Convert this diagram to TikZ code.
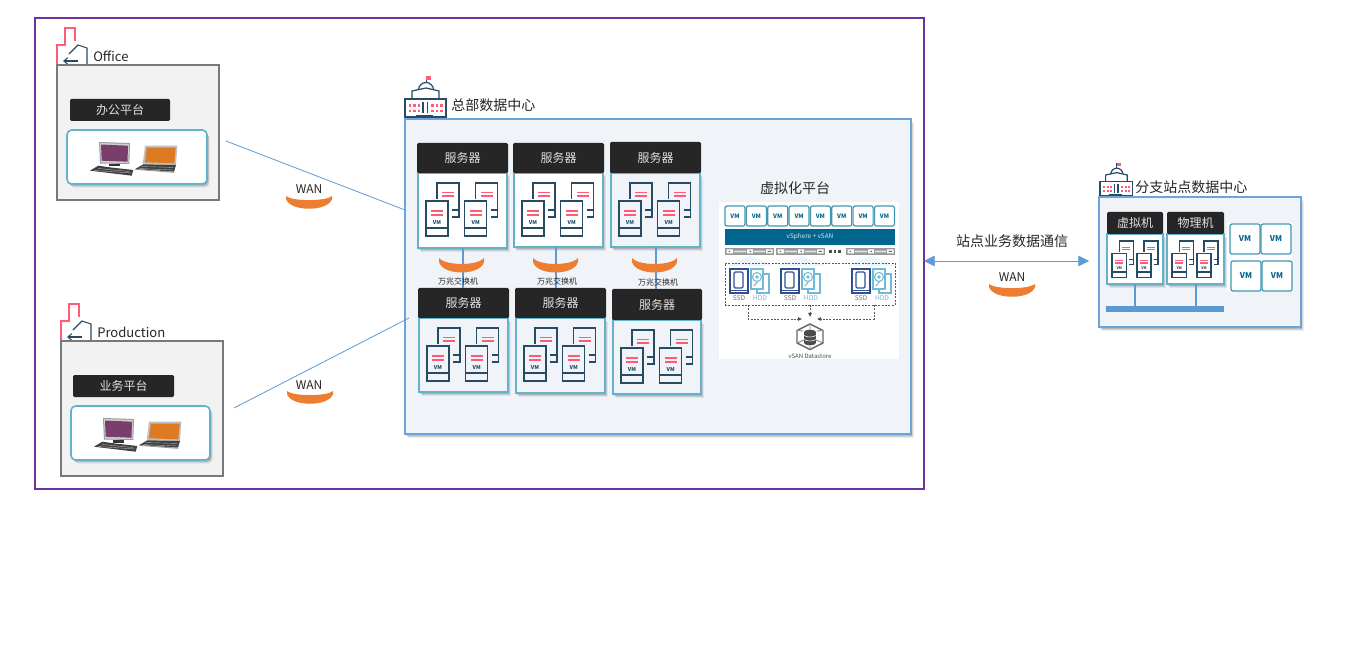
\documentclass[tikz,border=0pt]{standalone}
\usepackage{fontspec}
\setmainfont{Noto Sans CJK SC}
\usetikzlibrary{shadows,arrows.meta}

\definecolor{campusline}{HTML}{7030A0}
\definecolor{wanblue}{HTML}{5B9BD5}
\definecolor{hqfill}{HTML}{F0F4F8}
\definecolor{tealline}{HTML}{62B2CA}
\definecolor{headblack}{HTML}{262626}
\definecolor{iconblue}{HTML}{264B63}
\definecolor{pinkred}{HTML}{FF5A78}
\definecolor{wanorange}{HTML}{ED7D31}
\definecolor{vmblue}{HTML}{00668E}
\definecolor{ssdblue}{HTML}{2F4F8F}
\definecolor{hddblue}{HTML}{6FBAD6}
\definecolor{pcscreen}{HTML}{7A3E6C}
\definecolor{lapscreen}{HTML}{DE7A22}

\tikzset{
	x=0.75pt, y=-0.75pt,
	softshadow/.style={
		drop shadow={shadow xshift=0.5pt, shadow yshift=-0.6pt, opacity=0.12, fill=black},
		drop shadow={shadow xshift=1pt, shadow yshift=-1.3pt, opacity=0.12, fill=black},
		drop shadow={shadow xshift=1.5pt, shadow yshift=-2pt, opacity=0.10, fill=black},
		drop shadow={shadow xshift=2pt, shadow yshift=-2.7pt, opacity=0.07, fill=black}},
	sitebox/.style={draw=gray!95!black, fill=black!5, line width=1.1pt},
	hqbox/.style={draw=wanblue!90!white, fill=hqfill, line width=1.4pt, softshadow},
	headbox/.style={fill=headblack, rounded corners=1pt, text=white!88!black, font=\fontsize{9}{9}\selectfont},
	cardbox/.style={draw=tealline, line width=1.2pt, softshadow},
	deskbox/.style={cardbox, fill=white, rounded corners=3.5pt},
	vmbox/.style={draw=tealline!65!vmblue, fill=white, line width=0.9pt, rounded corners=1.5pt, text=vmblue},
	wanline/.style={draw=wanblue, line width=0.6pt},
	lanline/.style={draw=wanblue, line width=1.5pt},
	dotline/.style={draw=black!65, line width=0.5pt, dash pattern=on 1.5pt off 1pt},
	wantag/.style={text=headblack, inner sep=0pt, font=\fontsize{9}{9}\selectfont},
	sitetag/.style={anchor=west, inner sep=0pt, text=headblack, font=\fontsize{10.5}{10.5}\selectfont},
	latintag/.style={sitetag, font=\fontsize{9.8}{9.8}\selectfont},
	swtag/.style={text=headblack, inner sep=0pt, font=\fontsize{6}{6}\selectfont},
	% office building outline with the house in front
	officeicon/.pic={
		\draw[pinkred, line width=1pt] (0,0) -- (0,-20) -- (8,-20) -- (8,-37) -- (18,-37) -- (18,-24);
		\draw[iconblue, line width=0.8pt] (30,0) -- (30,-17) -- (21,-20) -- (12,-11);
		\draw[iconblue, line width=0.8pt, -{Straight Barb[length=3pt,width=5pt]}] (21,-4) -- (6,-4);
	},
	% main building with flag
	hallicon/.pic={
		\draw[iconblue, line width=0.7pt] (21,0) -- (21,8);
		\fill[pinkred] (21,0) rectangle (26,4);
		\draw[iconblue, line width=0.9pt, fill=white] (13.5,14) arc[start angle=180, end angle=360, radius=7.5];
		\draw[iconblue, line width=0.9pt, fill=white] (7,24) -- (7,15) -- (21,12) -- (34,15) -- (34,24);
		\draw[iconblue, line width=0.8pt, fill=white] (0,23) rectangle (41,41);
		\draw[iconblue, line width=1pt] (18,26) -- (18,37) (22.3,26) -- (22.3,37) (11,39.5) -- (28,39.5);
		\foreach \wx in {5,9.5,14,27.5,32,36.5}
			\foreach \wy in {29.5,35}
				\fill[pinkred] (\wx-1.2,\wy-1.2) rectangle (\wx+1.2,\wy+1.2);
	},
	% four vm sheets, two pairs
	vmstack/.pic={
		\foreach \dx in {0,38.7}{
			\begin{scope}[xshift=\dx*0.75pt]
				\draw[iconblue, line width=1pt] (19,26) -- (19,10) -- (41,10) -- (41,44) -- (34,44) (34,37) -- (41,37);
				\draw[pinkred, line width=0.9pt] (24,19.5) -- (36,19.5) (24,23) -- (36,23);
				\draw[iconblue, line width=1pt] (8,28) rectangle (30,63) (8,55) -- (30,55);
				\draw[pinkred, line width=0.9pt] (13,38) -- (25,38) (13,42) -- (25,42);
				\node[text=iconblue, inner sep=0pt, transform shape, font=\fontsize{4}{4}\bfseries\selectfont] (vmmark) at (19,50) {VM};
			\end{scope}
		}
	},
	% desktop and laptop, origin at the panel corner
	pcset/.pic={
		\fill[black!40] (32,12) -- (63,13) -- (62.3,34) -- (33,33.5) -- cycle;
		\fill[black!18] (33,13) -- (62,14) -- (61.5,33) -- (34,32.5) -- cycle;
		\fill[pcscreen] (34,14.5) -- (61,15.7) -- (60.5,31.7) -- (34.7,30.7) -- cycle;
		\fill[black!80] (42,34) rectangle (53,36.5);
		\fill[black!75] (23,40.7) -- (31.3,35.7) -- (44,37.5) -- (66.3,40) -- (64.7,45.7) -- cycle;
		\draw[black!30, line width=0.3pt] (27,40.5) -- (64,43) (31,38.5) -- (62,41.5);
		\fill[black!25] (78,15.7) -- (110.3,15.7) -- (109,35) -- (75.7,34.3) -- cycle;
		\fill[lapscreen] (79.7,17.7) -- (108.7,17.7) -- (107.3,33.3) -- (78,32.3) -- cycle;
		\fill[black!75] (76.3,34.3) -- (109,35) -- (107,41.7) -- (68.3,39) -- cycle;
		\draw[black!35, line width=0.3pt] (74,36.5) -- (107,37.5) (72,38.5) -- (106,40);
		\fill[black!40] (68.3,39) -- (107,41.7) -- (107,42.8) -- (68.3,39.8) -- cycle;
	},
	hostbar/.pic={
		\fill[hqfill!70!wanblue!30!white] (25,8) -- (0,18) -- (50,18) -- cycle;
		\fill[black!40] (0,0) rectangle (49,7);
		\fill[white!85!vmblue] (9,2.6) rectangle (21,4.4) (29,2.6) rectangle (40,4.4);
		\fill[white] (1.5,1.5) rectangle (8,5.5) (22,1.5) rectangle (28,5.5) (41,1.5) rectangle (47.5,5.5);
		\fill[black!60] (3.5,3) rectangle (5,4) (24.3,3) rectangle (25.8,4) (42.5,3) rectangle (46,4);
	},
	diskpair/.pic={
		\draw[ssdblue, line width=0.9pt] (0,0) rectangle (18,24);
		\draw[ssdblue, line width=0.9pt, rounded corners=1pt] (4,3) rectangle (13,19);
		\draw[ssdblue, line width=0.5pt] (1,21.5) -- (17,21.5);
		\draw[hddblue, line width=0.8pt] (32,5) -- (39,5) -- (39,24) -- (27,24) -- (27,20);
		\draw[hddblue, line width=0.8pt, fill=white] (21,0) rectangle (33,20);
		\draw[hddblue, line width=0.8pt] (27,8) circle (4.5) (27,8) circle (1.2) (24,17) -- (28,12);
		\node[text=black!55, inner sep=0pt, font=\fontsize{5}{5}\selectfont] (ssdmark) at (9,29.5) {SSD};
		\node[text=hddblue, inner sep=0pt, font=\fontsize{5}{5}\selectfont] (hddmark) at (30,29.5) {HDD};
	},
	% bottom half of a cylinder
	wandish/.pic={
		\fill[wanorange] (0,0) -- (0,3) .. controls (4,16) and (42,16) .. (46,3) -- (46,0) .. controls (40,5.5) and (6,5.5) .. (0,0) -- cycle;
	},
	% wider one for the switches
	swdish/.pic={
		\fill[wanorange] (0,0) -- (0,4) .. controls (4,18) and (41,18) .. (45,4) -- (45,0) .. controls (38,8) and (7,8) .. (0,0) -- cycle;
	},
}

\newcommand{\plate}[7][]{\node[#1, inner sep=0pt, outer sep=0pt, minimum width={((#5)-(#3))*0.75pt}, minimum height={((#6)-(#4))*0.75pt}] (#2) at ({((#3)+(#5))/2},{((#4)+(#6))/2}) {#7};}

\begin{document}
\begin{tikzpicture}
	\useasboundingbox (0,0) rectangle (1362,648);
	\fill[white] (0,0) rectangle (1362,648);
	\plate[draw=campusline, line width=1.4pt]{campus}{35}{18}{924}{489}{}

	% office site
	\pic at (57,65) {officeicon};
	\plate[sitebox]{office}{57}{65}{219}{200}{}
	\node[latintag] (officetag) at (93,56.5) {Office};
	\plate[headbox]{officehead}{70}{99}{170}{121}{办公平台}
	\plate[deskbox]{officepc}{67}{130}{207}{184}{}
	\pic at (67,130) {pcset};

	% production site
	\pic at (61,341) {officeicon};
	\plate[sitebox]{prod}{61}{341}{223}{476}{}
	\node[latintag] (prodtag) at (97,332.5) {Production};
	\plate[headbox]{prodhead}{73}{375}{174}{397}{业务平台}
	\plate[deskbox]{prodpc}{71}{406}{210}{460}{}
	\pic at (71,406) {pcset};

	% head office
	\plate[hqbox]{hq}{405}{119}{911}{434}{}
	\pic at (405,76) {hallicon};
	\node[sitetag] (hqtag) at (451,105) {总部数据中心};

	\plate[cardbox, fill=white]{srv1}{418}{173}{507}{248}{}
	\plate[cardbox, fill=white]{srv2}{514}{173}{603}{247}{}
	\plate[cardbox, fill=hqfill]{srv3}{611}{173}{700}{247}{}
	\plate[cardbox, fill=hqfill]{srv4}{419}{318}{508}{392}{}
	\plate[cardbox, fill=hqfill]{srv5}{516}{318}{605}{393}{}
	\plate[cardbox, fill=hqfill]{srv6}{613}{320}{701}{394}{}
	\plate[headbox]{srv1head}{417}{143}{508}{173}{服务器}
	\plate[headbox]{srv2head}{513}{143}{604}{173}{服务器}
	\plate[headbox]{srv3head}{610}{142}{701}{173}{服务器}
	\plate[headbox]{srv4head}{418}{288}{509}{318}{服务器}
	\plate[headbox]{srv5head}{515}{288}{606}{318}{服务器}
	\plate[headbox]{srv6head}{612}{289}{702}{320}{服务器}
	\pic at (418,173) {vmstack};
	\pic at (514,173) {vmstack};
	\pic at (611,173) {vmstack};
	\pic at (419,318) {vmstack};
	\pic at (516,318) {vmstack};
	\pic at (613,320) {vmstack};

	\draw[lanline] (srv1.south) -- (srv1.south |- srv4head.north);
	\draw[lanline] ([xshift=-2pt]srv2.south) -- ([xshift=-2pt]srv2.south |- srv5head.north);
	\draw[lanline] (srv3.south) -- (srv3.south |- srv6head.north);
	\pic at (439,258) {swdish};
	\pic at (533,258) {swdish};
	\pic at (632,258) {swdish};
	\node[swtag] (sw1tag) at (458,281) {万兆交换机};
	\node[swtag] (sw2tag) at (557,281) {万兆交换机};
	\node[swtag] (sw3tag) at (658,282) {万兆交换机};

	% virtualisation block
	\node[text=headblack, inner sep=0pt, font=\fontsize{10.5}{10.5}\selectfont] (virttag) at (795,188) {虚拟化平台};
	\plate[fill=white]{virt}{719}{202}{899}{359}{}
	\foreach \i in {0,...,7}{
		\plate[vmbox, font=\fontsize{4.5}{4.5}\bfseries\selectfont]{vmtop\i}{725+\i*21.35}{206}{745+\i*21.35}{226}{VM}
	}
	\plate[fill=vmblue, text=white!85!vmblue, font=\fontsize{4.8}{4.8}\selectfont]{vsphere}{725}{229}{895}{245}{vSphere + vSAN}
	\pic at (725,248) {hostbar};
	\pic at (776,248) {hostbar};
	\pic at (846,248) {hostbar};
	\foreach \dx in {830.5,835,839.5}
		\fill[black!70] (\dx-1.2,250.3) rectangle (\dx+1.2,252.7);
	\plate[dotline]{pool}{725}{263}{895}{305}{}
	\pic at (730,269) {diskpair};
	\pic at (781,269) {diskpair};
	\pic at (852,269) {diskpair};

	% datastore hexagon
	\draw[black!60, line width=1.1pt, fill=white] (810,324) -- (823,330.5) -- (823,343) -- (810,349.5) -- (797,343) -- (797,330.5) -- cycle;
	\draw[black!45, line width=0.7pt] (810,324) -- (810,331) (823,343) -- (816,340) (797,343) -- (804,340)
		(803,331) -- (797,330.5) (817,331) -- (823,330.5) (810,349.5) -- (810,343);
	\fill[black!70] (804,332) rectangle (816,343);
	\fill[black!70] (810,332) ellipse (6 and 2.2);
	\fill[black!70] (810,343) ellipse (6 and 2.2);
	\draw[white, line width=0.4pt] (804,335.5) .. controls (807,337.5) and (813,337.5) .. (816,335.5) (804,339.5) .. controls (807,341.5) and (813,341.5) .. (816,339.5);
	\node[text=black!70, inner sep=0pt, font=\fontsize{4.5}{4.5}\selectfont] (storetag) at (810,356) {vSAN Datastore};
	\coordinate (poolleft) at (748,305);
	\coordinate (poolright) at (874,305);
	\coordinate (poolmid) at (810,305);
	\draw[dotline, -{Latex[length=3pt,width=3pt,color=iconblue]}] (poolleft) -- (748,319) -- (802,319);
	\draw[dotline, -{Latex[length=3pt,width=3pt,color=iconblue]}] (poolright) -- (874,319) -- (817,319);
	\draw[dotline, -{Latex[length=3pt,width=3pt,color=iconblue]}] (poolmid) -- (810,317);

	% branch
	\plate[hqbox]{branch}{1099}{197}{1301}{327}{}
	\pic[scale=0.8] at (1100,163) {hallicon};
	\node[sitetag] (branchtag) at (1135,187) {分支站点数据中心};
	\plate[cardbox, fill=white]{vmhost}{1107}{234}{1163}{284}{}
	\plate[cardbox, fill=white]{physhost}{1167}{234}{1224}{284}{}
	\plate[headbox]{vmhosthead}{1107}{212}{1163}{234}{虚拟机}
	\plate[headbox]{physhosthead}{1167}{212}{1224}{234}{物理机}
	\pic[xscale=0.64, yscale=0.69] at (1107,234) {vmstack};
	\pic[xscale=0.64, yscale=0.69] at (1167,234) {vmstack};
	\plate[fill=wanblue]{bus}{1106}{306}{1224}{312}{}
	\draw[lanline] (vmhost.south) -- (vmhost.south |- bus.north);
	\draw[lanline] (physhost.south) -- (physhost.south |- bus.north);
	\fill[white] (1227,223) rectangle (1292,291);
	\plate[vmbox, font=\fontsize{6}{6}\bfseries\selectfont]{vmfree1}{1230}{224}{1260}{254}{VM}
	\plate[vmbox, font=\fontsize{6}{6}\bfseries\selectfont]{vmfree2}{1261}{224}{1291}{254}{VM}
	\plate[vmbox, font=\fontsize{6}{6}\bfseries\selectfont]{vmfree3}{1231}{261}{1261}{291}{VM}
	\plate[vmbox, font=\fontsize{6}{6}\bfseries\selectfont]{vmfree4}{1262}{261}{1292}{291}{VM}

	% links
	\coordinate (officeout) at (226,141);
	\coordinate (prodout) at (234,408);
	\coordinate (hqin) at (409,318);
	\coordinate (branchin) at (1089,261);
	\draw[wanline] (officeout) -- (hq.west |- 0,210);
	\draw[wanline] (prodout) -- (hqin);
	\draw[wanline, {Triangle[length=8pt,width=8pt]}-{Triangle[length=8pt,width=8pt]}] (campus.east |- 0,261) -- (branchin);
	\pic at (286,196) {wandish};
	\pic at (287,391) {wandish};
	\pic at (989,284) {wandish};
	\node[wantag] (wan1tag) at (309,189) {WAN};
	\node[wantag] (wan2tag) at (309,385) {WAN};
	\node[wantag] (wan3tag) at (1012,277) {WAN};
	\node[text=headblack, inner sep=0pt, font=\fontsize{10.5}{10.5}\selectfont] (traffictag) at (1012,241) {站点业务数据通信};
\end{tikzpicture}
\end{document}
